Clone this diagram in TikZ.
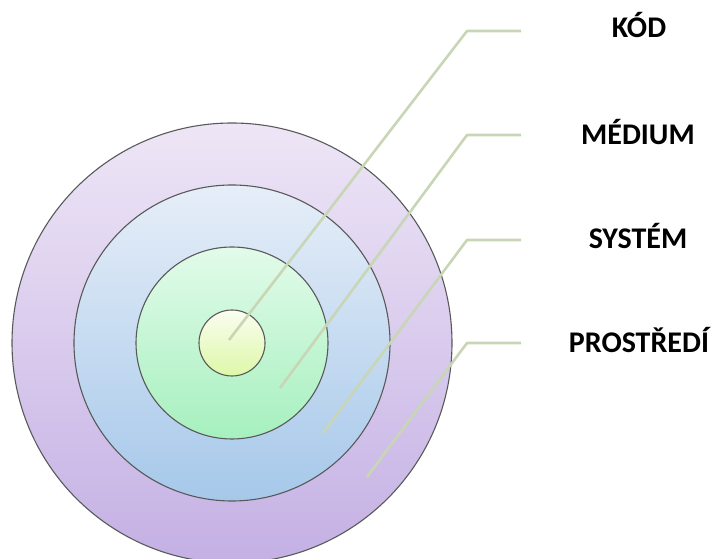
\documentclass[tikz,border=0pt]{standalone}
\usepackage{fontspec}
\setmainfont{Carlito}
\definecolor{lilacTop}{HTML}{EEE6F6}\definecolor{lilacBot}{HTML}{C4B0E4}
\definecolor{blueTop}{HTML}{E6EEF8}\definecolor{blueBot}{HTML}{A6C8EA}
\definecolor{greenTop}{HTML}{E2FBEA}\definecolor{greenBot}{HTML}{A6F0BE}
\definecolor{coreTop}{HTML}{FAFDF0}\definecolor{coreBot}{HTML}{DDF8A8}
\definecolor{leadCol}{HTML}{C8D6B6}
\begin{document}
\begin{tikzpicture}[x=1pt,y=1pt,ring/.style={circle,draw=black!65,line width=1.1pt,inner sep=0pt},leader/.style={leadCol,line width=2.6pt,line join=round},label/.style={font=\bfseries\fontsize{30}{36}\selectfont,anchor=base}]
\useasboundingbox (0,0) rectangle (715,559);
\coordinate (C) at (232,216);
\node[ring,minimum size=440pt,top color=lilacTop,bottom color=lilacBot] (prostredi) at (C) {};
\node[ring,minimum size=316pt,top color=blueTop,bottom color=blueBot] (medium) at (C) {};
\node[ring,minimum size=192pt,top color=greenTop,bottom color=greenBot] (system) at (C) {};
\node[ring,minimum size=66pt,top color=coreTop,bottom color=coreBot] (kod) at (C) {};
% leaders
\coordinate (kodA) at (229,219);\coordinate (kodB) at (467,528);\coordinate (kodC) at (521,528);
\coordinate (medA) at (280,171);\coordinate (medB) at (467,424);\coordinate (medC) at (521,424);
\coordinate (sysA) at (323,126);\coordinate (sysB) at (467,319);\coordinate (sysC) at (521,319);
\coordinate (proA) at (367,82);\coordinate (proB) at (467,216);\coordinate (proC) at (521,216);
\draw[leader] (kodA)--(kodB)--(kodC);\draw[leader] (medA)--(medB)--(medC);
\draw[leader] (sysA)--(sysB)--(sysC);\draw[leader] (proA)--(proB)--(proC);
\node[label] (kodL) at (639,521) {KÓD};\node[label] (medL) at (638,414) {MÉDIUM};
\node[label] (sysL) at (638,310) {SYSTÉM};\node[label] (proL) at (639,206) {PROSTŘEDÍ};
\end{tikzpicture}
\end{document}
